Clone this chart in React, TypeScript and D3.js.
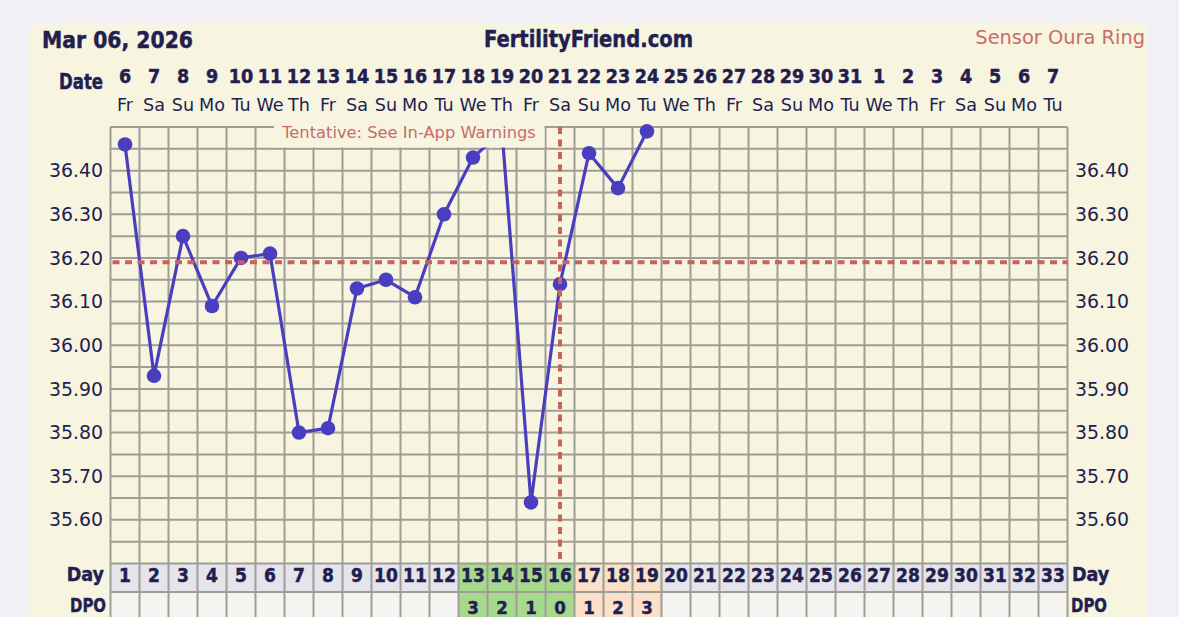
import React from "react";
import * as d3 from "d3";

// ---- data ----
const cycleDays = [1,2,3,4,5,6,7,8,9,10,11,12,13,14,15,16,17,18,19,20,21,22,23,24,25,26,27,28,29,30,31,32,33];
const dateLabels = ["6","7","8","9","10","11","12","13","14","15","16","17","18","19","20","21","22","23","24","25","26","27","28","29","30","31","1","2","3","4","5","6","7"];
const weekdayLabels = ["Fr","Sa","Su","Mo","Tu","We","Th","Fr","Sa","Su","Mo","Tu","We","Th","Fr","Sa","Su","Mo","Tu","We","Th","Fr","Sa","Su","Mo","Tu","We","Th","Fr","Sa","Su","Mo","Tu"];
const tempDays = [1,2,3,4,5,6,7,8,9,10,11,12,13,14,15,16,17,18,19];
const temps = [36.46,35.93,36.25,36.09,36.20,36.21,35.80,35.81,36.13,36.15,36.11,36.30,36.43,36.49,35.64,36.14,36.44,36.36,36.49];
const yTickLabels = [36.4,36.3,36.2,36.1,36.0,35.9,35.8,35.7,35.6];
const greenDays = [13,14,15,16];
const peachDays = [17,18,19];
const dpoDays = [13,14,15,16,17,18,19];
const dpoValues = ["3","2","1","0","1","2","3"];
const coverline = 36.19;
const ovulationDay = 16;
const tempMin = 35.5;
const tempMax = 36.5;

// ---- style ----
const NAVY = "#221f50";
const RED = "#c9625c";
const RED_TEXT = "#c76c68";
const BLUE = "#4a3ec0";
const GRID = "#a09d96";
const PANEL = "#f7f4e0";
const BOLD = "'DejaVu Sans Condensed', 'DejaVu Sans', sans-serif";
const REG = "'DejaVu Sans', Verdana, sans-serif";

export default function App() {
  const W = 1179, H = 617;
  const x = d3.scaleBand<number>().domain(cycleDays).range([110.5, 1067.5]).padding(0);
  const y = d3.scaleLinear().domain([tempMin, tempMax]).range([563.5, 127]);
  const step = x.step();
  const cx = (d: number) => (x(d) as number) + step / 2;
  const gridTop = y(tempMax);
  const gridBottom = y(tempMin);
  const dayTop = gridBottom, dayBot = dayTop + 28.5;
  const dpoTop = dayBot, dpoBot = dpoTop + 29;
  const hLines = d3.range(0, 21).map(i => tempMin + i * 0.05);
  const vEdges = cycleDays.map(d => x(d) as number).concat([(x(cycleDays[cycleDays.length - 1]) as number) + step]);
  const line = d3.line<number>().x((_, i) => cx(tempDays[i])).y(v => y(v));
  const pts = temps.map((v, i) => [cx(tempDays[i]), y(v)]);
  const boldTxt = { fontFamily: BOLD, fontWeight: 700, fill: NAVY, stroke: NAVY, strokeWidth: 0.45 } as const;

  return (
    <div style={{ position: "fixed", left: 0, top: 0, width: W, height: H, background: "#f1f0f6" }}>
      <svg width={W} height={H} style={{ display: "block" }}>
        <rect x={30} y={24} width={1118} height={620} fill={PANEL} />
        {/* header */}
        <text x={42} y={48} style={boldTxt} fontSize={23} textLength={151} lengthAdjust="spacingAndGlyphs">Mar 06, 2026</text>
        <text x={484} y={47} style={boldTxt} fontSize={23} textLength={209} lengthAdjust="spacingAndGlyphs">FertilityFriend.com</text>
        <text x={1145} y={44} textAnchor="end" fontFamily={REG} fontSize={19.4} fill={RED_TEXT}>Sensor Oura Ring</text>
        {/* date row */}
        <text x={103} y={89} textAnchor="end" style={boldTxt} fontSize={20.5} textLength={44} lengthAdjust="spacingAndGlyphs">Date</text>
        {cycleDays.map((d, i) => (
          <g key={"d" + d}>
            <text x={cx(d)} y={83} textAnchor="middle" style={boldTxt} fontSize={19.5}>{dateLabels[i]}</text>
            <text x={cx(d)} y={111} textAnchor="middle" fontFamily={REG} fontSize={17.6} fill={NAVY}>{weekdayLabels[i]}</text>
          </g>
        ))}
        {/* row backgrounds */}
        <rect x={vEdges[0]} y={dayTop} width={vEdges[vEdges.length - 1] - vEdges[0]} height={dayBot - dayTop} fill="#e5e4ea" />
        <rect x={vEdges[0]} y={dpoTop} width={vEdges[vEdges.length - 1] - vEdges[0]} height={dpoBot - dpoTop} fill="#f5f4f0" />
        {greenDays.map(d => (
          <rect key={"g" + d} x={x(d)} y={dayTop} width={step} height={dpoBot - dayTop} fill="#a6d98c" />
        ))}
        {peachDays.map(d => (
          <rect key={"p" + d} x={x(d)} y={dayTop} width={step} height={dpoBot - dayTop} fill="#fbe1c9" />
        ))}
        {/* grid */}
        {hLines.map((v, i) => (
          <line key={"h" + i} x1={vEdges[0]} x2={vEdges[vEdges.length - 1]} y1={y(v)} y2={y(v)} stroke={GRID} strokeWidth={2} />
        ))}
        <line x1={vEdges[0]} x2={vEdges[vEdges.length - 1]} y1={dayBot} y2={dayBot} stroke={GRID} strokeWidth={2} />
        {vEdges.map((e, i) => (
          <line key={"v" + i} x1={e} x2={e} y1={gridTop} y2={dpoBot} stroke={GRID} strokeWidth={2} />
        ))}
        {/* y labels */}
        {yTickLabels.map(v => (
          <g key={"yl" + v}>
            <text x={103} y={y(v) + 6.6} textAnchor="end" fontFamily={REG} fontSize={18.9} fill={NAVY}>{v.toFixed(2)}</text>
            <text x={1075} y={y(v) + 6.6} textAnchor="start" fontFamily={REG} fontSize={18.9} fill={NAVY}>{v.toFixed(2)}</text>
          </g>
        ))}
        {/* data */}
        <path d={line(temps) || ""} fill="none" stroke={BLUE} strokeWidth={3.2} strokeLinejoin="round" />
        {pts.map((p, i) => (
          <circle key={"c" + i} cx={p[0]} cy={p[1]} r={7.3} fill={BLUE} />
        ))}
        {/* coverline & ovulation line */}
        <line x1={vEdges[0] + 2} x2={vEdges[vEdges.length - 1]} y1={y(coverline)} y2={y(coverline)} stroke={RED} strokeWidth={4} strokeDasharray="7 5.5" />
        <line x1={cx(ovulationDay)} x2={cx(ovulationDay)} y1={gridTop} y2={gridBottom} stroke={RED} strokeWidth={4} strokeDasharray="7 5.5" />
        {/* tentative box */}
        <rect x={274} y={116} width={270.5} height={31.5} fill={PANEL} />
        <text x={409} y={138} textAnchor="middle" fontFamily={REG} fontSize={16.3} fill={RED_TEXT}>Tentative: See In-App Warnings</text>
        {/* day row */}
        <text x={104} y={581} textAnchor="end" style={boldTxt} fontSize={19.5}>Day</text>
        <text x={1072} y={581} textAnchor="start" style={boldTxt} fontSize={19.5}>Day</text>
        <text x={106} y={612} textAnchor="end" style={boldTxt} fontSize={20} textLength={36} lengthAdjust="spacingAndGlyphs">DPO</text>
        <text x={1071} y={612} textAnchor="start" style={boldTxt} fontSize={20} textLength={36} lengthAdjust="spacingAndGlyphs">DPO</text>
        {cycleDays.map(d => (
          <text key={"dn" + d} x={cx(d)} y={581.5} textAnchor="middle" style={boldTxt} fontSize={19}>{d}</text>
        ))}
        {dpoDays.map((d, i) => (
          <text key={"dp" + d} x={cx(d)} y={614} textAnchor="middle" style={boldTxt} fontSize={18.5}>{dpoValues[i]}</text>
        ))}
      </svg>
    </div>
  );
}
